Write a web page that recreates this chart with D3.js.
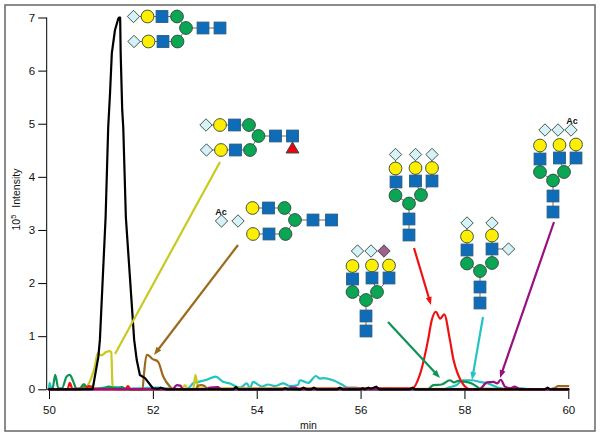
<!DOCTYPE html>
<html><head><meta charset="utf-8">
<script src="https://cdn.jsdelivr.net/npm/d3@7"></script>
<style>html,body{margin:0;padding:0;background:#fff}svg{display:block}text{font-family:"Liberation Sans",Arial,sans-serif}</style>
</head><body><svg id="c" width="600" height="436"></svg>
<script>
// --- chart values: [minutes, intensity x 10^5] ---
const xTickValues = [50,52,54,56,58,60];
const yTickValues = [0,1,2,3,4,5,6,7];
const cyanTrace = [[50,0],[50.01,.12],[50.04,.03],[50.08,0],[50.9,.01],[51.05,.03],[51.3,.04],[51.5,.01],[51.75,.02],[52.1,.03],[52.25,.02],[52.6,.01],[52.68,.02],[52.715,.05],[52.78,.12],[52.875,.14],[53.04,.18],[53.21,.24],[53.35,.14],[53.485,.11],[53.68,.03],[53.81,.11],[53.87,.02],[53.93,.14],[54.1,.05],[54.22,.09],[54.35,.06],[54.51,.11],[54.64,.06],[54.795,.08],[54.83,.17],[54.99,.12],[55.14,.25],[55.22,.2],[55.28,.21],[55.47,.17],[55.64,.09],[55.76,.03],[55.91,.03],[56.05,.01],[56.4,.02],[56.7,.01],[57.6,0],[57.68,.03],[57.85,.08],[57.97,.17],[58.14,.17],[58.3,.14],[58.45,.11],[58.65,.03],[58.8,0],[59.1,.02],[59.2,0],[60,0]];
const greenTrace = [[50,0],[50.07,.02],[50.12,.27],[50.18,.02],[50.25,.02],[50.34,.24],[50.4,.27],[50.47,.14],[50.53,.01],[50.6,.02],[50.67,.1],[50.75,.01],[51.05,.02],[51.15,.05],[51.3,.02],[51.4,.04],[51.5,0],[57.3,0],[57.34,.03],[57.4,.08],[57.56,.09],[57.72,.17],[57.8,.13],[57.88,.16],[57.95,.15],[58.14,.11],[58.24,.05],[58.3,.01],[60,0]];
const redTrace = [[50,0],[50.36,.01],[50.4,.12],[50.45,.01],[50.72,.01],[50.76,.06],[50.82,.05],[50.86,0],[51.47,0],[51.52,.06],[51.57,0],[57,.02],[57.14,.27],[57.3,.93],[57.37,1.3],[57.45,1.46],[57.53,1.33],[57.61,1.41],[57.72,.93],[57.79,.55],[57.88,.27],[57.97,.1],[58.1,0],[60,0]];
const purpleTrace = [[50,0],[52.38,0],[52.46,.08],[52.53,.07],[52.58,0],[53.0,0],[53.1,.03],[53.25,.04],[53.32,0],[54.6,0],[54.66,.03],[54.75,.03],[54.8,0],[58.28,0],[58.33,.03],[58.43,.13],[58.56,.14],[58.63,.11],[58.7,.18],[58.78,.05],[58.88,.02],[58.97,.05],[59.07,0],[60,0]];
const yellowTrace = [[50,0],[50.66,0],[50.75,.08],[50.88,.42],[50.94,.68],[51.01,.64],[51.1,.7],[51.17,.72],[51.2,.7],[51.22,.12],[51.24,0],[52.55,0],[52.62,.08],[52.68,0],[52.78,.02],[52.82,.27],[52.87,.02],[60,0]];
const brownTrace = [[50,0],[50.62,0],[50.67,.06],[50.74,.02],[51.8,0],[51.83,.3],[51.88,.65],[51.93,.63],[51.98,.58],[52.1,.52],[52.2,.24],[52.33,.05],[52.4,0],[52.82,0],[52.88,.07],[52.93,.08],[53.0,.06],[53.05,0],[59.62,0],[59.75,.03],[59.8,.06],[60,.06]];
const blackTrace = [[50,0],[50.84,0],[50.95,.61],[50.98,.93],[51.09,3.24],[51.14,4.93],[51.175,5.57],[51.21,6.33],[51.27,6.76],[51.335,6.98],[51.35,7],[51.37,7],[51.38,6.33],[51.41,5.26],[51.43,4.93],[51.48,3.24],[51.64,.93],[51.69,.55],[51.75,.27],[51.85,.21],[52,.02],[52.1,.01],[52.15,.03],[52.25,0],[53.55,0],[53.6,.04],[53.65,0],[54.5,0],[54.55,.02],[54.6,0],[54.85,0],[54.9,.03],[54.96,0],[55.05,0],[55.1,.03],[55.16,0],[55.55,0],[55.6,.03],[55.65,0],[56,0],[56.04,.02],[56.08,0],[56.15,.03],[56.2,.01],[56.3,.05],[56.36,0],[56.95,0],[57,.03],[57.05,0],[59.55,0],[59.6,.03],[59.65,0],[60,0]];

const traces = [
  {name:"cyan", values:cyanTrace, color:"#22c3c3"},
  {name:"yellow", values:yellowTrace, color:"#c9c920"},
  {name:"brown", values:brownTrace, color:"#9b6a1c"},
  {name:"green", values:greenTrace, color:"#0f9353"},
  {name:"red", values:redTrace, color:"#ee1111"},
  {name:"purple", values:purpleTrace, color:"#990f80"},
  {name:"black", values:blackTrace, color:"#000"}
];

// --- glycan cartoons: node kinds and links only ---
const S="sialic", G="gal", N="glcnac", M="man", F="fuc", P="neugc";
const glycans = [
 {nodes:[[S,133.5,16.5],[G,147.5,16.5],[N,162,16.5],[M,177,16.5],[S,134,41.5],[G,148.5,41.5],[N,163,41.5],[M,177.5,41.5],[M,186,28],[N,203,28],[N,220,28]],
  links:[[0,1],[1,2],[2,3],[3,8],[4,5],[5,6],[6,7],[7,8],[8,9],[9,10]]},
 {nodes:[[S,206,125],[G,220,125],[N,234.5,125],[M,249,125],[S,206.5,150],[G,221,150],[N,235.5,150],[M,250,150],[M,258.5,136],[N,275.5,136],[N,292.5,136],[F,292.5,148]],
  links:[[0,1],[1,2],[2,3],[3,8],[4,5],[5,6],[6,7],[7,8],[8,9],[9,10],[10,11]]},
 {nodes:[[S,221.5,221],[S,238,221],[G,252.5,208],[N,268.5,208],[M,284.5,208],[G,253,234],[N,269,234],[M,285.5,234],[M,295,220],[N,313,220],[N,331.5,220]],
  links:[[2,3],[3,4],[4,8],[5,6],[6,7],[7,8],[8,9],[9,10]], ac:[221,212]},
 {nodes:[[S,395.5,154.5],[S,415.5,154.5],[S,432,154.5],[G,395.5,168.5],[G,415.5,168],[G,432,168],[N,396,182],[N,415.5,181],[N,432,181],[M,395.5,195.5],[M,421,195],[M,409,203.5],[N,409,219],[N,409,235]],
  links:[[0,3],[1,4],[2,5],[3,6],[4,7],[5,8],[6,9],[7,10],[8,10],[9,11],[10,11],[11,12],[12,13]]},
 {nodes:[[S,357.5,251],[S,371,251],[P,384,251],[G,352.5,266],[G,372,265.5],[G,389,265.5],[N,352.5,279],[N,372,278],[N,389,278],[M,352.5,292],[M,377,292],[M,366,300],[N,366,316],[N,366,331]],
  links:[[3,6],[4,7],[5,8],[6,9],[7,10],[8,10],[9,11],[10,11],[11,12],[12,13]]},
 {nodes:[[S,467,223],[S,492,223],[S,508.5,249],[G,467,236.5],[G,492,235.5],[N,467,250],[N,492,249],[M,467,263.5],[M,492,263],[M,480,271],[N,480,287],[N,480,303]],
  links:[[0,3],[1,4],[3,5],[4,6],[2,6],[5,7],[6,8],[7,9],[8,9],[9,10],[10,11]]},
 {nodes:[[S,545,130],[S,558,130],[S,571,130],[G,540,145.5],[G,559.5,145],[G,576,144.5],[N,540,159],[N,559.5,158],[N,576,158],[M,540,172],[M,564,172],[M,553,180.5],[N,553,196],[N,553,212]],
  links:[[3,6],[4,7],[5,8],[6,9],[7,10],[8,10],[9,11],[10,11],[11,12],[12,13]], ac:[572,121]}
];
const leaders = [
 {from:[220,162],to:[115,354],color:"#c9c920",arrow:false},
 {from:[238,245],to:[154,355],color:"#9b6a1c",arrow:true},
 {from:[414,248],to:[431,305],color:"#ee1111",arrow:true},
 {from:[388,322],to:[440,378],color:"#0f9353",arrow:true},
 {from:[483,317],to:[472,380],color:"#22c3c3",arrow:true},
 {from:[554,222],to:[500,378],color:"#990f80",arrow:true}
];
const fills = {sialic:"#d6f1f8",gal:"#ffee00",glcnac:"#0f6cb8",man:"#0aa653",fuc:"#ee0010",neugc:"#a0608f"};

const svg = d3.select("#c");
svg.append("rect").attr("x",5).attr("y",5).attr("width",590).attr("height",426)
  .attr("fill","#fff").attr("stroke","#666").attr("stroke-width",1.5);

const x = d3.scaleLinear().domain([50,60]).range([49,568.3]);
const y = d3.scaleLinear().domain([0,7]).range([389.3,17.5]);

// axes
const gx = svg.append("g").attr("transform","translate(0,389.5)")
  .call(d3.axisBottom(x).tickValues(xTickValues).tickSize(9.5).tickPadding(6.5).tickFormat(d3.format("d")));
const gy = svg.append("g").attr("transform","translate(46.7,0)")
  .call(d3.axisLeft(y).tickValues(yTickValues).tickSize(8.5).tickPadding(3).tickFormat(d3.format("d")));
gx.select(".domain").remove();
gy.select(".domain").remove();
svg.append("line").attr("x1",46.7).attr("x2",46.7).attr("y1",y(7)).attr("y2",y(0)).attr("stroke","#000").attr("stroke-width",1);
[gx,gy].forEach(g=>{g.selectAll("text").attr("font-size",11.5).attr("fill","#111").attr("font-family",'"Liberation Sans",Arial,sans-serif');
  g.selectAll("line").attr("stroke","#000");});
svg.append("line").attr("x1",46.7).attr("x2",568.5).attr("y1",y(0)).attr("y2",y(0)).attr("stroke","#000").attr("stroke-width",1);

svg.append("text").attr("x",308.5).attr("y",429).attr("text-anchor","middle").attr("font-size",10.5).attr("fill","#111").text("min");
const yl = svg.append("text").attr("transform","translate(20,230.5) rotate(-90)").attr("text-anchor","start").attr("font-size",10.5).attr("fill","#111");
yl.append("tspan").text("10");
yl.append("tspan").attr("dy",-4.5).attr("font-size",7.5).text("5");
yl.append("tspan").attr("dy",4.5).attr("dx",7).text("Intensity");

// traces
const line = d3.line().x(d=>x(d[0])).y(d=>y(d[1])).curve(d3.curveMonotoneX);
const straight = d3.line().x(d=>x(d[0])).y(d=>y(d[1]));
svg.append("g").selectAll("path").data(traces).join("path")
  .attr("d",d=>d.name==="black"?straight(d.values):line(d.values)).attr("fill","none").attr("stroke",d=>d.color)
  .attr("stroke-width",2.2).attr("stroke-linejoin","round").attr("stroke-linecap","round");

// leader lines
const lg = svg.append("g");
leaders.forEach(l=>{
  const dx=l.to[0]-l.from[0], dy=l.to[1]-l.from[1], len=Math.hypot(dx,dy), ux=dx/len, uy=dy/len;
  const head=l.arrow?6:0;
  lg.append("line").attr("x1",l.from[0]).attr("y1",l.from[1]).attr("x2",l.to[0]-ux*head).attr("y2",l.to[1]-uy*head)
    .attr("stroke",l.color).attr("stroke-width",2.2);
  if(l.arrow) lg.append("path").attr("fill",l.color)
    .attr("d",d3.line()([[l.to[0],l.to[1]],[l.to[0]-ux*8-uy*3,l.to[1]-uy*8+ux*3],[l.to[0]-ux*8+uy*3,l.to[1]-uy*8-ux*3]])+"Z");
});

// glycans
const draw = {
  sialic:(g,a,b)=>g.append("path").attr("d",`M${a-6.2},${b}L${a},${b-6.2}L${a+6.2},${b}L${a},${b+6.2}Z`),
  neugc:(g,a,b)=>g.append("path").attr("d",`M${a-6.2},${b}L${a},${b-6.2}L${a+6.2},${b}L${a},${b+6.2}Z`),
  gal:(g,a,b)=>g.append("circle").attr("cx",a).attr("cy",b).attr("r",6.4),
  man:(g,a,b)=>g.append("circle").attr("cx",a).attr("cy",b).attr("r",6.4),
  glcnac:(g,a,b)=>g.append("rect").attr("x",a-5.9).attr("y",b-5.9).attr("width",11.8).attr("height",11.8),
  fuc:(g,a,b)=>g.append("path").attr("d",`M${a},${b-6}L${a+6.5},${b+5}L${a-6.5},${b+5}Z`)
};
glycans.forEach(gl=>{
  const g = svg.append("g");
  g.selectAll("line").data(gl.links).join("line")
    .attr("x1",d=>gl.nodes[d[0]][1]).attr("y1",d=>gl.nodes[d[0]][2])
    .attr("x2",d=>gl.nodes[d[1]][1]).attr("y2",d=>gl.nodes[d[1]][2])
    .attr("stroke","#444").attr("stroke-width",0.8);
  gl.nodes.forEach(n=>{
    draw[n[0]](g,n[1],n[2]).attr("fill",fills[n[0]]).attr("stroke",n[0]==="glcnac"?"#225a80":"#2c4a3c").attr("stroke-width",0.9);
  });
  if(gl.ac) g.append("text").attr("x",gl.ac[0]).attr("y",gl.ac[1]+3).attr("text-anchor","middle")
    .attr("font-size",9).attr("font-weight","bold").attr("fill","#111").text("Ac");
});
</script></body></html>
